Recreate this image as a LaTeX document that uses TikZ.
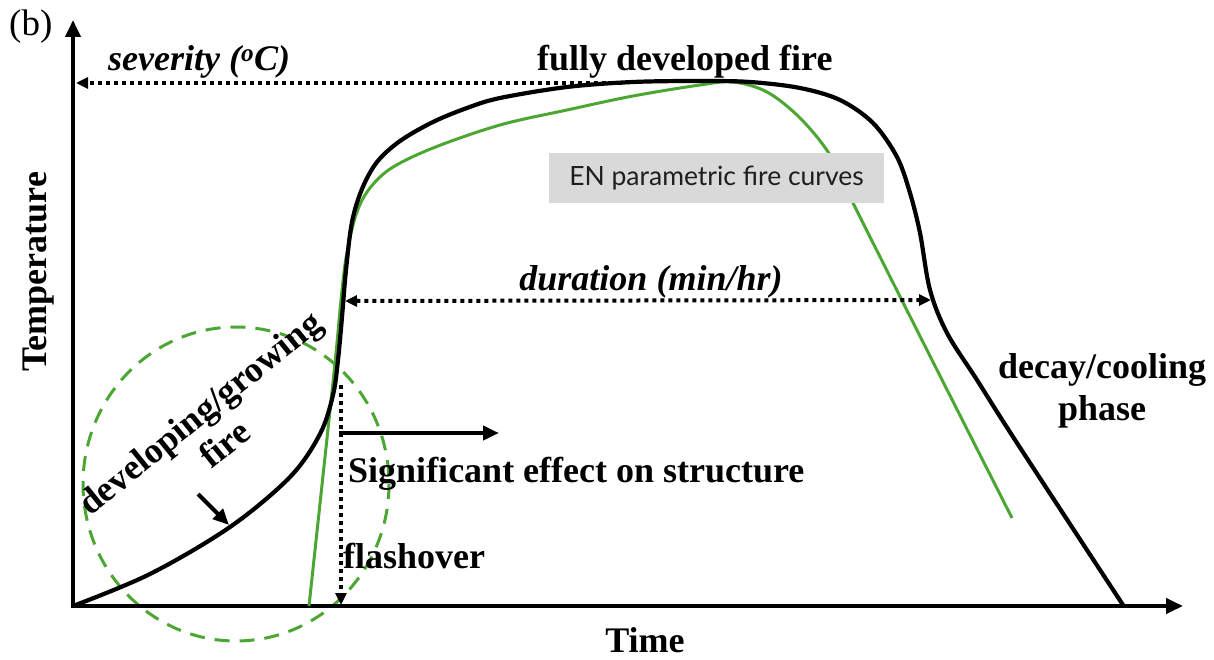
\documentclass[tikz,border=0pt]{standalone}
\usepackage{fontspec}
\setmainfont{Liberation Serif}
\newfontfamily\ensans{Lato}
\usetikzlibrary{arrows.meta}
\definecolor{fgreen}{RGB}{76,166,52}
\definecolor{boxgray}{RGB}{217,217,217}
\definecolor{boxtext}{RGB}{30,30,30}
\begin{document}
\begin{tikzpicture}[x=1pt,y=-1pt,
  lbl/.style={font=\bfseries\fontsize{36}{42}\selectfont, inner sep=0pt},
  ilbl/.style={font=\bfseries\itshape\fontsize{36}{42}\selectfont, inner sep=0pt},
  axisline/.style={line width=4pt, -{Triangle[length=17pt,width=15pt]}},
  dotline/.style={line width=4pt, dash pattern=on 4pt off 4pt},
  dottip/.style={-{Triangle[length=12pt,width=11pt]}},
  blackcurve/.style={line width=4.2pt, line join=round, line cap=round},
  greencurve/.style={line width=3pt, fgreen, line join=round},
  pointer/.style={line width=4pt, -{Triangle[length=16pt,width=14pt]}}
]
\useasboundingbox (0,0) rectangle (1214,660);

% coordinates
\coordinate (O) at (73,606);
\coordinate (Ytop) at (73,20);
\coordinate (Xend) at (1183,606);
\coordinate (sevS) at (622,83);
\coordinate (sevE) at (76,83);
\coordinate (durL) at (345,301);
\coordinate (durR) at (931,300);
\coordinate (flT) at (341,385);
\coordinate (flB) at (341,605);
\coordinate (sigS) at (339,433);
\coordinate (sigE) at (499,433);
\coordinate (ptS) at (198,494);
\coordinate (ptE) at (229,525);
\coordinate (circC) at (236,484);

% dashed green circle
\draw[fgreen, line width=3pt, dash pattern=on 15pt off 10pt] (circC) ellipse [x radius=153, y radius=157];

% axes
\draw[axisline] (O) -- (Ytop);
\draw[axisline] ([xshift=-2pt]O) -- (Xend);

% green curve
\draw[greencurve] plot[smooth, tension=0.55] coordinates {
 (309,606) (322,485) (335,363) (341,300) (346,258) (355,218) (367,192)
 (390,169) (433,148) (500,125) (567,110) (633,96) (700,85) (733,82)
 (767,92) (800,118) (830,155) (853,203) (932,360) (1012,518)};

% black curve
\draw[blackcurve] plot[smooth, tension=0.55] coordinates {
 (73,606) (150,574) (230,527) (290,477) (320,434)
 (333,395) (338,360) (342,317) (346,270) (352,222) (362,189) (377,162)
 (400,141) (433,122) (467,108) (500,98) (567,87) (633,82) (700,81)
 (750,82) (800,88) (840,100) (873,123) (897,157) (910,193) (920,233)
 (930,290) (947,333) (977,380) (1017,443) (1123,605)};

% dotted arrows
\draw[dotline, dottip] (sevS) -- (sevE);
\draw[dotline, {Triangle[length=12pt,width=11pt]}-{Triangle[length=12pt,width=11pt]}] (durL) -- (durR);
\draw[dotline, dottip] (flT) -- (flB);

% solid arrows
\draw[pointer] (sigS) -- (sigE);
\draw[pointer] (ptS) -- (ptE);

% labels
\node[font=\fontsize{37}{42}\selectfont, inner sep=0pt, anchor=base west] (blabel) at (9,36) {(b)};
\node[ilbl, anchor=base west] (sev) at (108,71) {severity (\textsuperscript{o}C)};
\node[lbl, anchor=base west] (fdf) at (537,71) {fully developed fire};
\node[fill=boxgray, minimum width=335pt, minimum height=50pt, inner sep=0pt,
      font=\ensans\fontsize{26.5}{30}\selectfont, text=boxtext] (en) at (716.5,178) {EN parametric fire curves};
\node[ilbl, anchor=base] (dur) at (651,290) {duration (min/hr)};
\node[lbl, anchor=base] (decay) at (1102,378) {decay/cooling};
\node[lbl, anchor=base] (phase) at (1102,420) {phase};
\node[lbl, anchor=base west] (sig) at (348,482) {Significant effect on structure};
\node[lbl, anchor=base west] (flash) at (343,568) {flashover};
\node[lbl, anchor=base] (time) at (645,652) {Time};
\node[lbl, anchor=base, rotate=90] (temp) at (46,272) {Temperature};
\node[lbl, rotate=39, align=center, font=\bfseries\fontsize{36}{40}\selectfont] (dev) at (212,428) {developing/growing\\fire};
\end{tikzpicture}
\end{document}
